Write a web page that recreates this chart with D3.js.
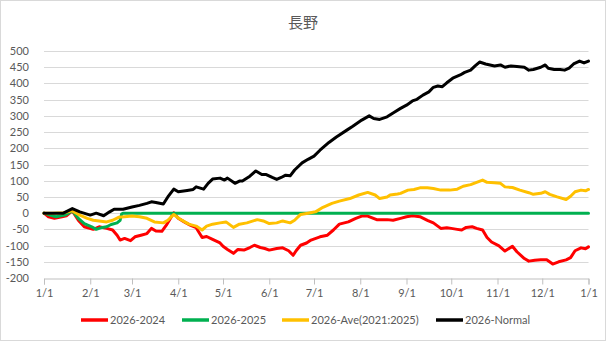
<!DOCTYPE html>
<html><head><meta charset="utf-8">
<script src="https://cdn.jsdelivr.net/npm/d3@7"></script>
<style>body{margin:0;background:#fff}svg{display:block}</style>
</head><body>
<svg id="c" width="606" height="341"></svg>
<script>
const title = "長野";
const seriesNames = ["2026-2024", "2026-2025", "2026-Ave(2021:2025)", "2026-Normal"];
const seriesColors = ["#FF0000", "#00B050", "#FFC000", "#000000"];
const yTicks = [-200,-150,-100,-50,0,50,100,150,200,250,300,350,400,450,500];

// day offsets from 1/1 and values
const redDays = [0,3,7,12,15,19,23,27,33,37,42,46,49,51,54,58,61,65,69,72,75,79,82,84,87,90,94,98,102,106,109,113,118,120,123,127,130,134,138,141,145,148,151,156,160,164,167,169,172,176,179,185,190,194,198,204,209,213,217,223,230,234,239,243,247,252,257,261,266,270,273,277,280,283,287,290,294,297,300,305,309,314,317,322,325,329,333,337,341,345,350,353,356,360,363,365];
const redVals = [0,-11,-16,-11,-8,7,-22,-42,-50,-42,-47,-52,-68,-83,-78,-85,-73,-68,-63,-47,-55,-56,-37,-22,1,-16,-27,-37,-45,-75,-72,-81,-92,-102,-112,-124,-112,-114,-106,-99,-106,-109,-114,-109,-107,-116,-130,-116,-99,-92,-83,-73,-68,-52,-34,-27,-16,-9,-9,-20,-20,-22,-16,-11,-8,-11,-22,-30,-47,-45,-47,-50,-52,-44,-42,-47,-52,-75,-89,-101,-117,-102,-119,-140,-148,-145,-144,-144,-157,-150,-144,-137,-116,-107,-110,-104];

const greenDays = [0,4,8,14,19,23,27,32,35,39,42,45,49,51,52,53,100,200,300,365];
const greenVals = [0,-6,-11,-6,7,-16,-32,-42,-50,-44,-42,-35,-30,-22,-3,0,0,0,0,0];

const yellowDays = [0,6,13,19,24,29,33,37,42,46,50,54,59,64,69,74,80,83,87,91,97,102,106,109,113,118,122,127,131,136,143,147,151,156,160,165,168,172,176,182,187,193,198,205,211,217,222,225,230,232,237,239,244,248,252,257,261,266,272,277,281,286,290,294,297,302,306,309,314,319,325,328,333,336,339,344,350,353,356,360,363,365];
const yellowVals = [0,0,1,7,-6,-16,-22,-24,-27,-22,-13,-11,-9,-11,-16,-27,-30,-22,-4,-18,-34,-40,-52,-40,-34,-30,-27,-44,-34,-30,-20,-24,-32,-30,-24,-30,-22,-4,-1,4,18,30,37,45,56,64,56,45,50,56,59,61,71,73,78,78,76,71,71,74,83,88,95,102,95,94,92,81,79,71,63,58,61,66,58,50,42,52,66,71,69,73];

const blackDays = [0,6,13,19,24,31,35,40,44,47,53,59,64,69,72,75,80,83,87,90,96,100,102,107,110,113,118,121,123,128,131,133,138,142,146,149,153,156,159,162,165,168,173,177,181,185,191,196,203,207,213,218,221,225,230,234,239,243,247,250,254,258,261,264,267,270,274,279,282,286,289,292,296,299,302,306,309,313,317,322,325,328,333,336,338,342,346,349,352,355,359,362,365];
const blackVals = [0,0,0,14,4,-6,0,-8,4,12,12,19,24,30,35,33,28,50,74,66,70,73,81,74,92,105,108,102,108,92,99,99,114,130,119,119,110,104,110,117,115,133,155,166,176,194,218,235,256,268,287,300,292,289,297,309,323,333,346,351,364,374,388,392,390,402,416,426,434,441,454,466,460,457,454,457,450,454,452,450,441,443,450,457,447,443,443,441,447,460,469,463,469];

const start = new Date(2026,0,1), end = new Date(2027,0,1);
const svg = d3.select("#c");
const W = 606, H = 341;
svg.append("rect").attr("x",0.5).attr("y",0.5).attr("width",W-1).attr("height",H-1)
  .attr("fill","#fff").attr("stroke","#d9d9d9");

const x = d3.scaleTime().domain([start,end]).range([44,588.5]);
const y = d3.scaleLinear().domain([-200,500]).range([278,51]);
const font = "Lato, 'Noto Sans CJK JP', sans-serif";

svg.append("text").attr("x",303).attr("y",28).attr("text-anchor","middle")
  .attr("font-family","'Noto Sans CJK JP', sans-serif").attr("font-size",15).attr("fill","#595959").text(title);

// grid
svg.append("g").selectAll("line").data(yTicks.filter(v=>v!==-200)).join("line")
  .attr("x1",44).attr("x2",588.5).attr("y1",d=>Math.round(y(d))+0.5).attr("y2",d=>Math.round(y(d))+0.5)
  .attr("stroke","#d9d9d9").attr("stroke-width",1);

// y labels
svg.append("g").selectAll("text").data(yTicks).join("text")
  .attr("x",29).attr("y",d=>y(d)+4).attr("text-anchor","end")
  .attr("font-family",font).attr("font-size",11).attr("fill","#595959").text(d=>d);

// x axis
const xAxis = d3.axisBottom(x).tickValues(d3.timeMonth.range(start, d3.timeDay.offset(end,1)))
  .tickFormat(d3.timeFormat("%-m/%-d")).tickSize(6).tickPadding(5);
const gx = svg.append("g").attr("transform","translate(0,278.5)").call(xAxis);
gx.select(".domain").attr("stroke","#bfbfbf");
gx.selectAll(".tick line").attr("stroke","#bfbfbf");
gx.selectAll(".tick text").attr("font-family",font).attr("font-size",11).attr("fill","#595959");

const line = d3.line().x(d=>x(d[0])).y(d=>y(d[1])).curve(d3.curveLinear);
const toPts = (days, vals) => days.map((d,i)=>[d3.timeDay.offset(start,d), vals[i]]);
const series = [
  toPts(redDays, redVals),
  toPts(greenDays, greenVals),
  toPts(yellowDays, yellowVals),
  toPts(blackDays, blackVals)
];
svg.append("g").selectAll("path").data(series).join("path")
  .attr("d",line).attr("fill","none").attr("stroke",(d,i)=>seriesColors[i])
  .attr("stroke-width",3).attr("stroke-linejoin","round").attr("stroke-linecap","round");

// legend
const legX = [81, 182, 282, 436];
const lg = svg.append("g").selectAll("g").data(seriesNames).join("g")
  .attr("transform",(d,i)=>`translate(${legX[i]},320)`);
lg.append("line").attr("x1",0).attr("x2",27).attr("stroke",(d,i)=>seriesColors[i]).attr("stroke-width",3.5);
lg.append("text").attr("x",29).attr("y",4).attr("font-family",font).attr("font-size",11)
  .attr("fill","#595959").text(d=>d);
</script>
</body></html>
